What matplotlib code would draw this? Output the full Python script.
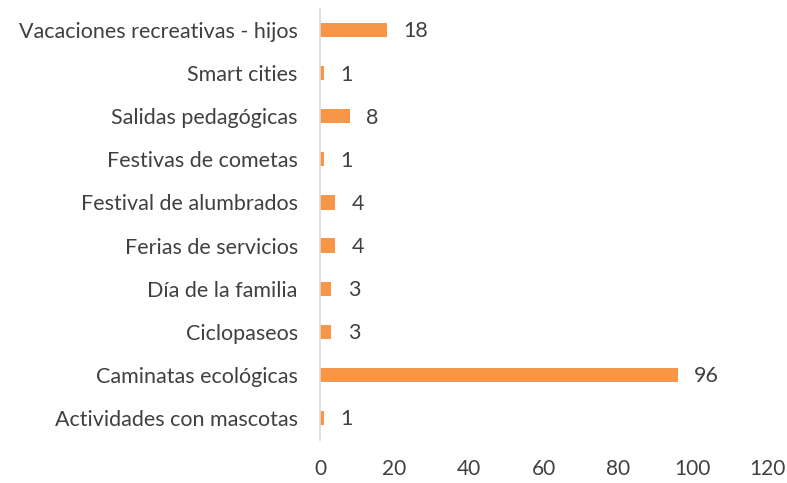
import matplotlib
matplotlib.use("Agg")
import matplotlib.pyplot as plt

categories = ["Actividades con mascotas", "Caminatas ecológicas", "Ciclopaseos",
              "Día de la familia", "Ferias de servicios", "Festival de alumbrados",
              "Festivas de cometas", "Salidas pedagógicas", "Smart cities",
              "Vacaciones recreativas - hijos"]
values = [1, 96, 3, 3, 4, 4, 1, 8, 1, 18]
xticks = [0, 20, 40, 60, 80, 100, 120]

plt.rcParams['font.family'] = ['Lato', 'DejaVu Sans']
text_color = '#404040'
fs = 15.5

fig = plt.figure(figsize=(7.87, 4.83), dpi=100)
ax = fig.add_axes([0.4066, 0.09, 0.568, 0.8924])

ypos = range(len(categories))
ax.barh(ypos, values, height=0.33, color='#F79646')

for y, v in zip(ypos, values):
    ax.annotate(str(v), (v, y), xytext=(12, -1), textcoords='offset points',
                va='center', ha='left', fontsize=fs, color=text_color)

ax.set_yticks(list(ypos))
ax.set_yticklabels(categories, fontsize=fs, color=text_color)
ax.set_xticks(xticks)
ax.set_xticklabels([str(t) for t in xticks], fontsize=15, color=text_color)
ax.set_xlim(0, 120)
ax.set_ylim(-0.5, len(categories) - 0.5)

for s in ['top', 'right', 'bottom']:
    ax.spines[s].set_visible(False)
ax.spines['left'].set_color('#D9D9D9')
ax.spines['left'].set_linewidth(1.2)
ax.tick_params(axis='both', length=0)
ax.tick_params(axis='y', pad=16)
ax.tick_params(axis='x', pad=14)

fig.savefig('out.png', dpi=100)
